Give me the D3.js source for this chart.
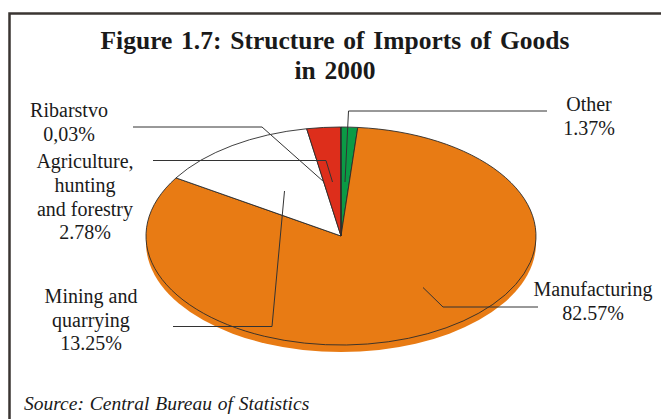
<!DOCTYPE html>
<html><head><meta charset="utf-8">
<script src="https://cdn.jsdelivr.net/npm/d3@7/dist/d3.min.js"></script>
<style>html,body{margin:0;padding:0;background:#fff;overflow:hidden}svg{display:block}text{font-family:"Liberation Serif",serif;fill:#1a1a1a}</style>
</head><body><svg id="c" width="661" height="419"></svg>
<script>
const categories = ["Other","Manufacturing","Mining and quarrying","Agriculture, hunting and forestry","Ribarstvo"];
const shares = [1.37,82.57,13.25,2.78,0.03];
const shareLabels = ["1.37%","82.57%","13.25%","2.78%","0,03%"];
const titleLines = ["Figure 1.7: Structure of Imports of Goods","in 2000"];
const sourceText = "Source: Central Bureau of Statistics";
const colors = ["#0b9a45","#e87b14","#ffffff","#dd2e1b","#dd2e1b"];

const svg = d3.select("#c");
const W=661,H=419;
// frame
svg.append("path").attr("d",`M${W} 13.5H9.5V${H}`).attr("fill","none").attr("stroke","#3a3532").attr("stroke-width",2.5);

// title
svg.selectAll("text.t").data(titleLines).join("text").attr("class","t")
  .attr("x",335).attr("y",(d,i)=>49+i*29.5).attr("text-anchor","middle")
  .attr("font-weight","bold").attr("font-size",25.5).attr("word-spacing",2.4).text(d=>d);

// pie
const cx=341,cy=236,rx=195,ry=109,depth=7;
const pie=d3.pie().sort(null).value(d=>d)(shares);
const arc=d3.arc().innerRadius(0).outerRadius(1);
const full=d3.arc().innerRadius(0).outerRadius(1).startAngle(0).endAngle(2*Math.PI);
svg.append("path").attr("d",full()).attr("transform",`translate(${cx},${cy+depth}) scale(${rx},${ry})`)
  .attr("fill","#e87b14");
svg.selectAll("path.s").data(pie).join("path").attr("class","s")
  .attr("d",arc).attr("transform",`translate(${cx},${cy}) scale(${rx},${ry})`)
  .attr("fill",(d,i)=>colors[i]).attr("stroke","#2b2b2b").attr("stroke-width",0.9)
  .attr("vector-effect","non-scaling-stroke").attr("stroke-linejoin","round");

// leader lines (layout, index matches categories)
const leaderLayout=[
 [[547,111],[348.5,111],[345,182]],
 [[538,307],[443,307],[423,287.5]],
 [[173,326.5],[272,326.5],[284.5,191]],
 [[153,160.5],[326,160.5],[332.5,182]],
 [[133,127],[262,127],[324,182]]
];
const line=d3.line();
svg.selectAll("path.l").data(leaderLayout).join("path").attr("class","l")
  .attr("d",line).attr("fill","none").attr("stroke","#333").attr("stroke-width",1);

// labels: name lines + value
const labelLines=[
 ["Other"],["Manufacturing"],["Mining and","quarrying"],["Agriculture,","hunting","and forestry"],["Ribarstvo"]
];
const labelLayout=[
 {x:589,y:[111,134.5]},
 {x:593,y:[296,320]},
 {x:91,y:[303,327,350]},
 {x:85,y:[168,192,216,239]},
 {x:69,y:[117,141]}
];
labelLines.forEach((ls,i)=>{
  const all=ls.concat([shareLabels[i]]);
  svg.selectAll("text.lab"+i).data(all).join("text").attr("class","lab"+i)
    .attr("x",labelLayout[i].x).attr("y",(d,k)=>labelLayout[i].y[k])
    .attr("text-anchor","middle").attr("font-size",20).text(d=>d);
});

// source
svg.append("text").attr("x",24).attr("y",410).attr("font-style","italic").attr("font-size",19.5).attr("word-spacing",1).text(sourceText);
</script></body></html>
